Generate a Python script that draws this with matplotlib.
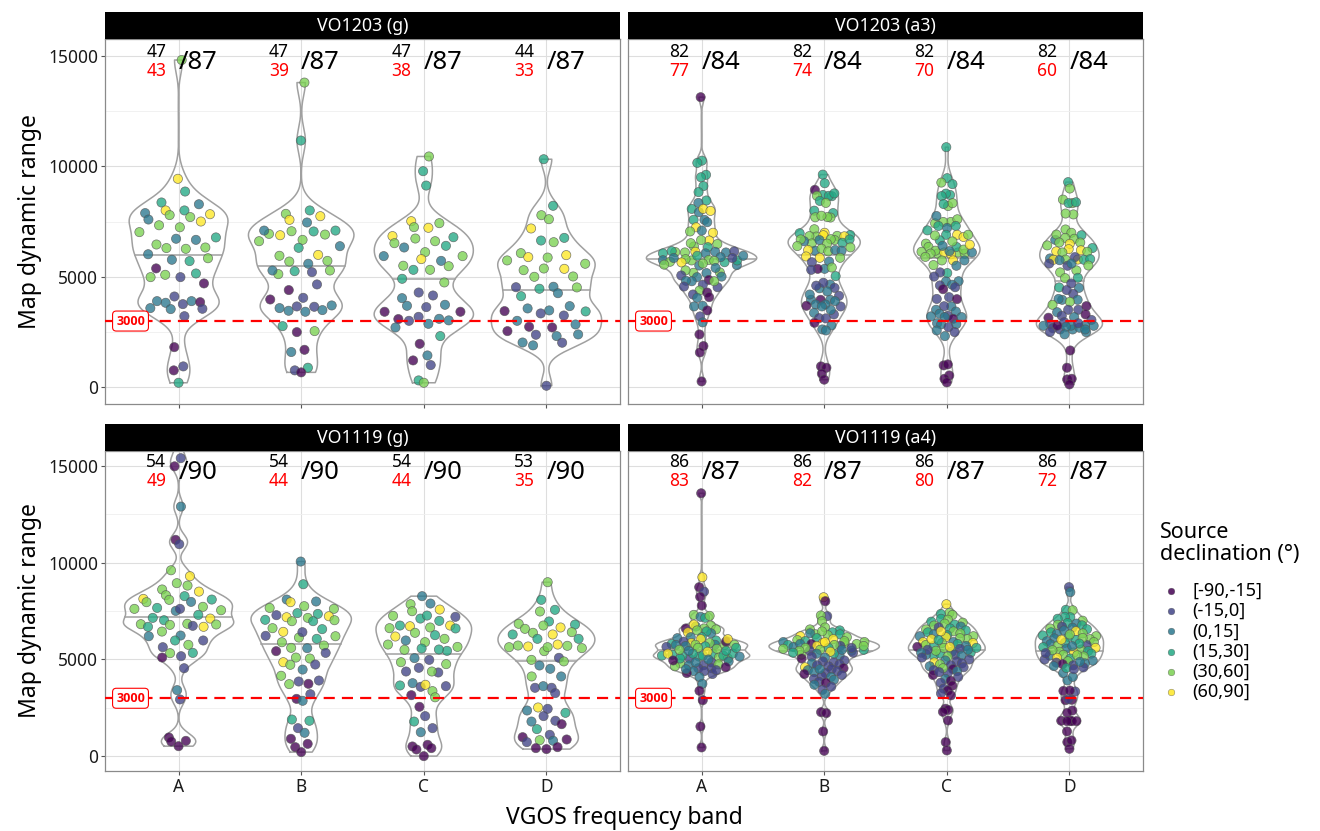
import numpy as np
import matplotlib
matplotlib.use("Agg")
import matplotlib.pyplot as plt

plt.rcParams['font.family'] = ['Noto Sans', 'DejaVu Sans']

# ---------------- data ----------------
bands = ['A', 'B', 'C', 'D']
panel_titles = ['VO1203 (g)', 'VO1203 (a3)', 'VO1119 (g)', 'VO1119 (a4)']
decl_labels = ['[-90,-15]', '(-15,0]', '(0,15]', '(15,30]', '(30,60]', '(60,90]']
decl_colors = ['#440154', '#414487', '#2A788E', '#22A884', '#7AD151', '#FDE725']
threshold = 3000

# (map dynamic range, declination class index)
vo1203g_A = [(14800,4),(9430,5),(8855,3),(8360,3),(8280,2),(8000,3),(8000,5),(7880,2),(7790,4),(7830,5),(7700,4),(7590,2),(7500,5),(7330,4),(7240,4),(7020,4),(6780,3),(6720,2),(6670,2),(6460,4),(6300,4),(6265,4),(6325,4),(6020,2),(5840,4),(5770,2),(5710,3),(5380,0),(4985,4),(5090,4),(4985,1),(5150,3),(4700,0),(4110,1),(3900,2),(3825,2),(3585,2),(3540,2),(3765,1),(3900,2),(3855,0),(3555,1),(3220,1),(1820,0),(950,1),(770,0),(210,3)]
vo1203g_B = [(13780,4),(11160,3),(7846,4),(8000,3),(7740,5),(7575,5),(7455,2),(7090,3),(6940,4),(6610,4),(6880,5),(7060,4),(7050,3),(6910,4),(7090,2),(6670,4),(6310,3),(6385,2),(5950,4),(5990,5),(5690,4),(5720,4),(5590,2),(5285,4),(5120,4),(5255,3),(5210,1),(5285,2),(4655,1),(4400,0),(3975,0),(4050,1),(3585,2),(3465,2),(3660,1),(3420,2),(3645,1),(3495,2),(3705,2),(2770,3),(2500,0),(2545,4),(1600,2),(1700,0),(890,3),(770,1),(680,0)]
vo1203g_C = [(10440,4),(9775,3),(9125,3),(7515,5),(7245,4),(7215,5),(7425,4),(6840,5),(6520,4),(6730,4),(6325,2),(6610,4),(6400,3),(6790,3),(5935,4),(6115,4),(5800,5),(5720,2),(5935,2),(5500,4),(5315,4),(5315,3),(5480,4),(4910,3),(4745,4),(4290,1),(4155,1),(4035,2),(3690,2),(3630,1),(3735,2),(3420,0),(3420,0),(3090,0),(3010,1),(3190,1),(2875,2),(3100,2),(3030,2),(2710,2),(2320,3),(1970,0),(1445,2),(1220,0),(1010,1),(316,3),(210,4)]
vo1203g_D = [(10315,3),(8210,3),(7785,4),(7605,4),(7185,5),(6640,3),(6565,4),(6760,3),(5740,4),(6070,4),(5890,5),(5870,4),(5980,5),(5590,4),(5300,4),(5375,4),(5360,5),(5000,4),(5015,4),(4530,1),(4460,3),(4550,2),(4520,4),(4260,2),(4125,3),(3570,2),(3480,2),(3675,2),(3435,3),(3450,0),(3345,1),(3250,1),(3010,2),(2845,2),(2740,0),(2710,0),(2545,0),(2380,1),(2320,2),(2395,2),(2030,2),(1900,2),(2020,1),(75,1)]

vo1203a3_A = [(13120,0),(10250,3),(10150,3),(9610,3),(9500,3),(9100,3),(8830,3),(8450,3),(8340,2),(8070,3),(7920,2),(8070,5),(7980,5),(7575,3),(7575,2),(7470,2),(7240,5),(7050,4),(7090,2),(6990,5),(6640,5),(6370,4),(6660,4),(6520,4),(6480,4),
              (6340,3),(6100,4),(6100,2),(6060,3),(6150,1),(6120,4),(6130,2),(6130,5),(6160,3),(6060,2),(5750,2),(5510,2),(5660,3),(5890,2),(5740,4),(5760,4),(5720,4),(5530,2),(5740,3),(5600,4),(5680,4),(5950,3),(5850,1),(5800,4),(5650,5),(5950,2),(5550,4),(5850,2),
              (5180,4),(5290,4),(5200,4),(5170,2),(5400,2),(4985,2),(5060,1),(5010,2),(4800,2),(4860,0),(4530,1),(4640,1),(4800,4),(4820,2),(4560,1),(4380,4),(4200,1),(4290,0),(4050,2),(4080,0),(3660,2),(3690,2),(3480,0),(3210,1),(2940,2),(2395,0),(1870,0),(1580,0),(270,0)]
vo1203a3_B = [(9620,3),(9230,3),(8930,0),(8700,3),(8645,3),(8660,4),(8660,3),(8770,3),(8430,3),(8340,4),(7880,3),(7990,3),(7680,4),(7690,4),(7700,4),(7760,4),(7150,4),
              (6890,3),(6990,5),(6970,3),(6820,4),(6840,4),(6850,4),(6830,5),(6880,5),
              (6660,4),(6510,4),(6540,3),(6690,3),(6660,2),(6700,4),(6610,2),(6500,4),(6690,4),
              (6390,4),(6180,2),(6210,5),(6270,4),(6150,4),(6210,2),(6180,2),(6330,4),
              (5920,5),(5860,5),(5690,2),(5860,4),
              (5660,1),(5360,2),(5420,4),(5360,0),(5315,1),(5030,3),
              (4650,2),(4500,1),(4480,2),(4730,1),(4600,1),(4340,2),
              (3960,2),(3960,2),(3960,0),(4140,1),(3750,2),(3750,2),(3660,2),(3660,1),(3690,0),(3900,2),
              (3370,2),(3300,1),(3130,1),(3120,1),(3500,2),(4200,2),
              (2920,0),(2800,2),(2620,2),(2575,2),(950,0),(890,0),(620,0),(350,0)]
vo1203a3_C = [(10860,3),(9460,3),(9260,4),(9190,3),(8700,3),(8760,3),(8650,3),(8200,4),(8330,4),(8290,3),
              (7480,4),(7600,4),(7480,4),(7420,4),(7750,2),(7210,2),(7300,3),(7300,3),
              (6900,5),(6800,5),(6900,3),(6650,3),(6900,4),(6870,4),(7100,3),
              (6500,4),(6100,4),(6050,4),(6100,5),(6350,4),(6050,4),(6130,4),(6020,5),(6180,4),(6350,3),(6050,4),(6230,4),(6160,2),(6400,2),
              (5740,5),(5740,4),(5740,2),(5500,2),(5170,3),(5530,4),(5200,1),
              (5010,1),(4800,2),(4790,2),(4640,2),(4530,1),(4610,1),(4440,0),
              (4000,1),(4080,1),(3990,0),(3660,2),(3670,1),
              (3430,2),(3240,1),(3510,2),(3210,2),(3330,2),(3100,0),(3180,2),(3180,2),
              (6600,4),(6100,2),(5900,4),(6450,5),
              (2900,2),(2860,2),(2850,2),(2725,1),(2575,2),(2320,2),(2500,1),(995,0),(1040,0),(540,0),(390,0),(225,0)]
vo1203a3_D = [(9280,3),(8990,4),(8490,4),(8330,4),(8330,3),(8370,3),(7820,4),(7860,4),
              (7140,4),(6990,4),(6720,4),(6880,3),(6670,2),(6910,4),(6760,4),(6490,5),(6550,4),(6550,4),
              (6200,5),(6150,5),(6420,4),(6300,3),(6130,4),(6250,5),(6100,4),
              (5780,5),(5770,3),(5830,2),(5770,5),(5780,4),(5800,3),(5890,1),(5750,2),(5600,1),
              (5290,4),(5200,4),(5510,4),(5500,1),(5600,2),
              (4940,4),(4955,3),(4520,3),(4500,2),(4230,1),(3960,2),(4000,2),(3960,2),(3735,4),(3870,4),
              (3510,1),(3400,2),(3675,0),(3510,1),(3240,1),(3150,0),(3180,2),(3050,1),
              (4700,1),(4400,1),(3300,0),
              (2950,1),(2880,1),(2785,2),(2620,2),(2680,1),(2620,1),(2790,2),(2740,2),(2800,2),(2700,2),(2790,0),(2900,1),(2785,2),(2500,2),(2400,2),(2620,2),(2500,1),(1670,0),(890,0),(360,0),(390,0),(135,0)]

vo1119g_A = [(16300,1),(15380,1),(14960,0),(12885,2),(11170,0),(10945,1),(9600,4),(9295,5),(8935,4),(8810,4),(8610,4),(8315,4),(8500,5),(8125,5),(7955,4),(8075,4),(8265,3),(7970,2),(8090,3),(7610,4),(7660,3),(7505,2),(7610,1),(7715,4),(7540,4),(7145,3),(7025,3),(7300,3),(7110,5),(6840,4),(6685,5),(6785,4),(6820,4),(6735,1),(6685,3),(6805,4),(6440,4),(6200,2),(6235,2),(5980,3),(5980,1),(5635,1),(5755,4),(5325,4),(5340,3),(5100,0),(5170,1),(4550,1),(3420,2),(2940,1),(980,0),(770,0),(805,0),(530,0)]
vo1119g_B = [(10050,2),(8880,3),(8090,2),(7955,5),(7990,2),(7660,4),(7750,4),(7610,4),(7285,1),(7180,5),(7390,3),(7145,4),(7350,3),(7230,5),(7045,3),(6975,3),(6975,4),(7025,4),(6615,4),(6425,5),(6130,4),(6410,1),(6565,3),(6220,1),(6200,4),(5890,4),(6065,3),(5720,4),(5600,4),(5585,2),(5430,0),(5340,1),(5100,4),(5050,4),(4860,5),(4725,4),(4740,1),(4480,2),(4160,4),(3730,4),(3865,1),(3745,0),(3915,1),(3210,1),(2970,0),(2870,2),(1905,3),(1840,3),(1460,1),(1220,2),(910,0),(650,0),(480,0),(225,0)]
vo1119g_C = [(8265,2),(7850,4),(7885,2),(7490,4),(7575,5),(7250,4),(7110,3),(7265,3),(6990,3),(7200,1),(6615,4),(6750,5),(6715,5),(6375,4),(6650,4),(6750,3),(6600,3),(6185,5),(5980,2),(5895,4),(6255,3),(6065,4),(5770,4),(5445,3),(5565,3),(5500,4),(5515,3),(5650,4),(5070,2),(4980,1),(4860,4),(4570,1),(4380,1),(4330,1),(4760,4),(4380,4),(3780,2),(3660,3),(3590,1),(3695,5),(3625,1),(3370,4),(3160,0),(3050,4),(2560,0),(2080,1),(1800,3),(1460,1),(1250,2),(515,0),(360,0),(600,0),(430,0),(17,0)]
vo1119g_D = [(8985,4),(8075,3),(7560,3),(7475,4),(6960,3),(6800,3),(6840,4),(6580,4),(6375,4),(6750,4),(6650,5),(6410,4),(6290,3),(6065,3),(6290,5),(6065,3),(5635,4),(5720,4),(5670,5),(5430,4),(5635,4),(5770,5),(5705,4),(5585,4),(4980,4),(5085,1),(4900,4),(4690,2),(4520,2),(4125,2),(4125,4),(3540,1),(3625,2),(3540,1),(3265,1),(2370,2),(2525,5),(2455,1),(2250,3),(2080,1),(1800,2),(1840,1),(1665,0),(1410,3),(995,0),(740,1),(840,4),(1115,1),(810,2),(875,0),(430,0),(380,0),(480,0)]

vo1119a4_A = [(13570,0),(9240,5),(8730,0),(8500,1),(8230,0),(7780,0),
              (7300,4),(7200,2),(7150,3),(7250,4),
              (6600,0),(6750,4),(6400,5),(6700,3),(6600,4),(6800,5),(6550,4),(6350,2),(6450,3),(6500,4),
              (5750,4),(6150,3),(5980,3),(5760,2),(5920,0),(6100,2),(5800,3),(6050,5),(6050,5),(5850,4),(6150,2),(5850,5),(5750,2),(5920,1),(5760,4),(5760,4),(5680,3),(5700,2),(5650,1),(5600,4),
              (5200,3),(5150,3),(4800,4),(5050,1),(5300,3),(5200,3),(5300,3),(5100,4),(5250,3),(5050,4),(5200,3),(5300,3),(5150,2),(5300,5),(5200,3),(5050,3),(5400,5),(5450,2),(5500,4),(5450,3),
              (4700,1),(4850,1),(4700,2),(4550,1),(4550,1),(4400,1),(4250,1),(4400,2),(4300,0),(4100,2),(4900,2),(4750,4),(4600,0),(4850,2),(4500,2),(4650,4),(4450,1),(4950,0),
              (5600,3),(5550,4),(5000,2),
              (3745,2),(3385,0),(2900,0),(1545,0),(465,0)]
vo1119a4_B = [(8210,5),(8005,0),(7235,1),(7270,4),(6975,4),
              (6650,4),(6500,3),(6550,4),(6300,4),(6400,3),(6350,2),(6250,4),(6450,4),(6200,5),(6300,3),(6150,4),(6000,4),(6100,3),(5200,2),(5250,4),(5300,3),(5900,4),(5850,4),(6050,5),(5950,3),(5800,0),(5900,2),(5850,5),(5750,3),(5800,4),(5950,4),(5700,1),(5750,4),(5650,2),(5800,2),(5600,3),(5700,5),(5550,4),(5500,2),(5450,1),(5500,4),(5600,4),(5450,3),(5350,1),(5400,5),(5300,2),(5450,4),(5350,3),(5600,1),(5500,3),(5700,4),(5900,5),
              (5150,1),(5050,0),(4950,1),(5100,2),(4850,1),(4900,1),(4750,1),(4800,2),(4650,1),(4600,5),(4700,1),(4500,1),(4550,0),(4400,1),(4450,2),(4300,1),(4350,2),(4200,1),(4250,0),(4150,1),(4100,2),(4000,1),(3950,2),(3850,1),(3800,0),(3700,2),(3600,1),(3435,1),(3230,2),(4500,2),
              (2285,0),(2235,0),(1290,0),(290,0)]
vo1119a4_C = [(7850,5),
              (7400,4),(7350,3),(7300,4),(7100,3),(7050,4),(6950,3),(6900,4),(6800,3),(6850,4),(6700,2),(6750,4),(6600,3),(6650,1),(6550,4),(6500,3),(6450,4),(6400,3),(6300,2),(6350,4),(6250,3),(6200,4),(6150,5),(5350,3),(6200,2),(5200,3),(6050,4),(5250,2),(6100,4),(5300,3),(5900,5),(5850,4),(5900,2),(5800,3),(5850,5),(5750,4),(5700,3),(5650,0),(5700,2),(5600,4),(5550,1),(5600,3),(5500,2),(5450,4),(5400,3),(5500,1),(5350,2),(5650,5),(6050,5),(6450,5),(6000,3),
              (5250,1),(5200,2),(5100,1),(5150,4),(5000,1),(4950,2),(4900,1),(4850,5),(4800,1),(4750,4),(4700,1),(4650,2),(4600,1),(4500,0),(4450,1),(4400,2),(4300,1),(4200,0),(4100,1),(4000,2),(3900,0),(3800,1),(3650,0),(3500,1),(3400,0),(3250,1),(3150,0),(4550,4),(4350,1),
              (2460,0),(2400,0),(2300,0),(1855,0),(740,0),(310,0)]
vo1119a4_D = [(8730,1),(8470,2),(7560,3),(7540,4),(7180,3),(7200,3),(7100,3),
              (3920,2),(3350,1),(3380,0),(3400,0),(4100,2),(4300,2),
              (7000,4),(6880,3),(6850,2),(6790,4),(6760,3),(6700,1),(6640,2),(6600,4),(6560,3),(6500,2),(6460,5),(6400,3),(6350,4),(6310,2),(6240,3),(6200,4),(6160,3),(6090,2),(6050,4),(6010,3),(5940,2),(5900,4),(5860,3),(5790,2),(5750,1),(5710,4),(5640,3),(5600,5),(5560,2),(5510,4),(5440,3),(5400,4),(5360,5),(5300,3),(5240,4),(5200,2),(5160,4),(5090,5),(5050,3),(5000,1),(4940,2),(4910,4),(4840,1),(4800,2),(4760,0),(4700,1),(4660,2),(4590,1),(4560,3),(4500,1),(6020,5),(5480,4),(5220,4),(6110,4),(5820,3),(4880,2),(5690,2),(6290,4),(5330,1),
              (2920,0),(2900,0),(2950,1),(2370,0),(2250,0),(1840,0),(1840,0),(1820,0),(1820,0),(1820,0),(1290,0),(740,0),(825,0),(395,0)]

# counts printed above each violin: detected sources, sources above 3000, total scheduled
vo1203g_det = [47, 47, 47, 44];   vo1203g_ok = [43, 39, 38, 33];   vo1203g_tot = 87
vo1203a3_det = [82, 82, 82, 82];  vo1203a3_ok = [77, 74, 70, 60];  vo1203a3_tot = 84
vo1119g_det = [54, 54, 54, 53];   vo1119g_ok = [49, 44, 44, 35];   vo1119g_tot = 90
vo1119a4_det = [86, 86, 86, 86];  vo1119a4_ok = [83, 82, 80, 72];  vo1119a4_tot = 87

panels = [
    (panel_titles[0], [vo1203g_A, vo1203g_B, vo1203g_C, vo1203g_D], vo1203g_det, vo1203g_ok, vo1203g_tot),
    (panel_titles[1], [vo1203a3_A, vo1203a3_B, vo1203a3_C, vo1203a3_D], vo1203a3_det, vo1203a3_ok, vo1203a3_tot),
    (panel_titles[2], [vo1119g_A, vo1119g_B, vo1119g_C, vo1119g_D], vo1119g_det, vo1119g_ok, vo1119g_tot),
    (panel_titles[3], [vo1119a4_A, vo1119a4_B, vo1119a4_C, vo1119a4_D], vo1119a4_det, vo1119a4_ok, vo1119a4_tot),
]

# ---------------- helpers ----------------
BW_ADJUST = 0.55

def nrd0(x):
    n = len(x)
    sd = np.std(x, ddof=1)
    q75, q25 = np.percentile(x, [75, 25])
    lo = min(sd, (q75 - q25) / 1.34)
    if lo <= 0:
        lo = sd
    return 0.9 * lo * n ** -0.2

def kde(x):
    bw = nrd0(x) * BW_ADJUST
    grid = np.linspace(x.min(), x.max(), 512)
    d = np.exp(-0.5 * ((grid[:, None] - x[None, :]) / bw) ** 2).sum(1) / (len(x) * bw * np.sqrt(2 * np.pi))
    return grid, d

def vdc(n, base=2):
    v, denom = 0.0, 1.0
    while n:
        denom *= base
        n, r = divmod(n, base)
        v += r / denom
    return v

# ---------------- layout ----------------
W, H = 1320, 831
fig = plt.figure(figsize=(W / 100, H / 100), dpi=100)

overlay = fig.add_axes([0, 0, 1, 1])
overlay.set_xlim(0, W); overlay.set_ylim(H, 0); overlay.axis('off')

boxes = [(105, 39, 620, 404), (628, 39, 1143, 404), (105, 451, 620, 771), (628, 451, 1143, 771)]
strip_h = 27.5
positions = np.arange(1, 5)
VW = 0.9

for pi, (title, groups, det, ok, tot) in enumerate(panels):
    l, t, r, b = boxes[pi]
    ax = fig.add_axes([l / W, 1 - b / H, (r - l) / W, (b - t) / H])
    ax.set_xlim(0.4, 4.6)
    ax.set_ylim(-750, 15750)
    ax.set_axisbelow(True)
    ax.set_yticks([0, 5000, 10000, 15000])
    ax.set_yticks([2500, 7500, 12500], minor=True)
    ax.set_xticks(positions)
    ax.set_xticklabels(bands)
    ax.grid(which='major', color='#dedede', lw=0.8)
    ax.grid(which='minor', axis='y', color='#efefef', lw=0.6)
    ax.tick_params(which='major', length=3, width=0.8, color='#555555', labelsize=12.5,
                   labelcolor='#1a1a1a', pad=2)
    ax.tick_params(which='minor', length=0)
    for s in ax.spines.values():
        s.set_color('#8a8a8a'); s.set_linewidth(0.9)
    if pi % 2 == 1:
        ax.tick_params(axis='y', left=False, labelleft=False)
    if pi < 2:
        ax.tick_params(axis='x', labelbottom=False)

    # strip
    sax = fig.add_axes([l / W, 1 - t / H, (r - l) / W, strip_h / H])
    sax.set_facecolor('black')
    sax.set_xticks([]); sax.set_yticks([])
    for s in sax.spines.values():
        s.set_visible(False)
    sax.text(0.5, 0.47, title, color='white', fontsize=12.8, ha='center', va='center',
             transform=sax.transAxes)

    dens = []
    for g in groups:
        v = np.array([p[0] for p in g], float)
        dens.append(kde(v))
    maxd = max(d.max() for _, d in dens)

    for gi, g in enumerate(groups):
        xc = positions[gi]
        vals = np.array([p[0] for p in g], float)
        cats = [p[1] for p in g]
        grid, d = dens[gi]
        hw = d / maxd * VW / 2
        xs_poly = np.concatenate([xc - hw, (xc + hw)[::-1], [xc - hw[0]]])
        ys_poly = np.concatenate([grid, grid[::-1], [grid[0]]])
        ax.plot(xs_poly, ys_poly, color='#a0a0a0', lw=1.1, zorder=2, solid_joinstyle='round')
        # median from density (as ggplot draw_quantiles)
        ecdf = np.cumsum(d) / d.sum()
        ymed = np.interp(0.5, ecdf, grid)
        wmed = np.interp(ymed, grid, hw)
        ax.plot([xc - wmed, xc + wmed], [ymed, ymed], color='#a0a0a0', lw=1.1, zorder=2)
        # quasirandom horizontal placement
        order = np.argsort(vals, kind='stable')
        offs = np.zeros(len(vals))
        for rank, idx in enumerate(order, start=1):
            u = 2 * vdc(rank) - 1
            offs[idx] = u * np.interp(vals[idx], grid, hw) * 0.85
        ax.scatter(xc + offs, vals, s=44, c=[decl_colors[c] for c in cats], alpha=0.78,
                   edgecolors='#555555', linewidths=0.5, zorder=3)
        # count annotations
        ax.annotate(str(det[gi]), xy=(xc - 0.1, 15000), xytext=(0, -1.1), textcoords='offset points',
                    ha='right', va='baseline', fontsize=12.5, color='black', zorder=7)
        ax.annotate(str(ok[gi]), xy=(xc - 0.1, 15000), xytext=(0, -14.6), textcoords='offset points',
                    ha='right', va='baseline', fontsize=12.5, color='red', zorder=7)
        ax.annotate('/' + str(tot), xy=(xc, 15000), xytext=(0, -9.5), textcoords='offset points',
                    ha='left', va='baseline', fontsize=18.5, color='black', zorder=7)

    ax.axhline(threshold, color='red', lw=1.6, dashes=(5, 3.2), zorder=4)
    ax.text(0.608, threshold, str(threshold), ha='center', va='center', color='red', fontsize=9,
            fontweight='bold', family=['Open Sans', 'Lato', 'DejaVu Sans'], zorder=6,
            bbox=dict(boxstyle='round,pad=0.28,rounding_size=0.3', fc='white', ec='red', lw=0.8))

# axis titles
overlay.text(30, (39 + 404) / 2, 'Map dynamic range', rotation=90, ha='center', va='center', fontsize=16.5)
overlay.text(30, (451 + 771) / 2, 'Map dynamic range', rotation=90, ha='center', va='center', fontsize=16.5)
overlay.text((105 + 1143) / 2, 818, 'VGOS frequency band', ha='center', va='center', fontsize=16.5)

# legend
overlay.text(1160, 522, 'Source\ndeclination (°)', ha='left', va='top', fontsize=15.5, linespacing=1.05)
for i, (lab, col) in enumerate(zip(decl_labels, decl_colors)):
    yy = 591 + 20.2 * i
    overlay.plot([1170.7], [yy], 'o', ms=4.8, color=col, alpha=0.85, mec='#555555', mew=0.3)
    overlay.text(1192, yy, lab, ha='left', va='center', fontsize=13)

fig.savefig('out.png', dpi=100)
